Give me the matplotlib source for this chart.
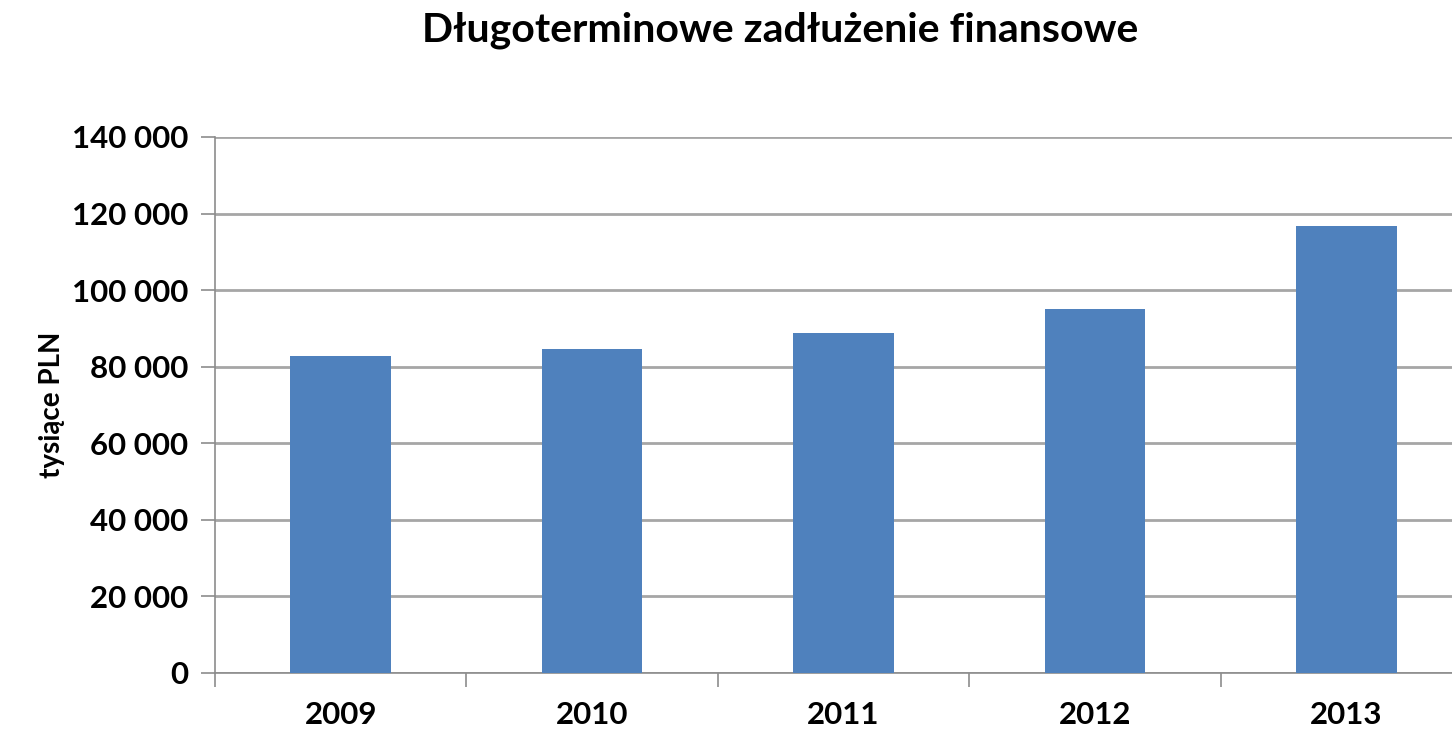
import matplotlib as mpl
import matplotlib.pyplot as plt
from matplotlib.ticker import FuncFormatter, FixedLocator

years = ['2009', '2010', '2011', '2012', '2013']
debt = [82900, 84700, 88800, 95100, 116700]
y_ticks = [0, 20000, 40000, 60000, 80000, 100000, 120000, 140000]

mpl.rcParams['font.family'] = ['Lato', 'DejaVu Sans']
mpl.rcParams['font.weight'] = 'bold'

fig = plt.figure(figsize=(14.52, 7.34), dpi=100)
ax = fig.add_axes([215 / 1452, 61 / 734, 1257 / 1452, 536 / 734])

x = range(len(years))
ax.bar(x, debt, width=0.4, color='#4F81BD', zorder=3)

ax.set_xlim(-0.5, len(years) - 0.5)
ax.set_ylim(0, 140000)
ax.set_yticks(y_ticks)
ax.yaxis.set_major_formatter(FuncFormatter(lambda v, p: f'{int(v):,}'.replace(',', ' ')))
ax.set_xticks(list(x))
ax.set_xticklabels(years)
ax.xaxis.set_minor_locator(FixedLocator([i - 0.5 for i in range(len(years) + 1)]))

ax.grid(axis='y', color='#A6A6A6', linewidth=2, zorder=0)
for s in ['top', 'right']:
    ax.spines[s].set_visible(False)
for s in ['left', 'bottom']:
    ax.spines[s].set_color('#8C8C8C')
    ax.spines[s].set_linewidth(1.2)

ax.tick_params(axis='y', length=10, width=1.2, color='#8C8C8C', labelsize=22.5, pad=9)
ax.tick_params(axis='x', which='major', length=0, labelsize=22.5, pad=20)
ax.tick_params(axis='x', which='minor', length=10, width=1.2, color='#8C8C8C')
for lbl in ax.get_xticklabels() + ax.get_yticklabels():
    lbl.set_fontweight('bold')

ax.set_ylabel('tysiące PLN', fontsize=20, fontweight='bold', labelpad=5)
fig.text(780 / 1452, 1 - 30 / 734, 'Długoterminowe zadłużenie finansowe',
         ha='center', va='center', fontsize=29.5, fontweight='bold')

fig.savefig('out.png', dpi=100)
